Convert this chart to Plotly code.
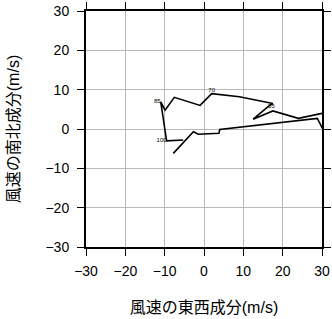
import plotly.graph_objects as go

# hodograph path (u, v) in m/s
u = [-7.8, -2.7, -1.45, 3.8, 4.0, 28.8, 29.9, 31.0, 31.0, 24.0, 17.5, 12.5, 16.3, 17.5, 9.0, 1.95, -1.0, -7.55, -9.9, -11.0, -9.5, -5.3]
v = [-6.2, -0.7, -1.35, -1.1, -0.1, 2.7, 0.6, -1.5, 4.2, 2.7, 4.6, 2.5, 5.7, 6.5, 8.2, 9.0, 6.0, 8.05, 4.8, 6.9, -3.0, -2.8]

lab_u = [16.3, 1.95, -11.0, -9.5]
lab_v = [5.7, 9.0, 6.9, -3.0]
lab_t = ["55", "70", "85", "100"]
lab_pos = ["middle right", "top center", "middle left", "middle left"]

ticks = [-30, -20, -10, 0, 10, 20, 30]

fig = go.Figure()
fig.add_trace(go.Scatter(x=u, y=v, mode="lines",
                         line=dict(color="black", width=1.6), hoverinfo="skip"))
fig.add_trace(go.Scatter(x=lab_u, y=lab_v, mode="text", text=lab_t,
                         textposition=lab_pos, cliponaxis=False,
                         textfont=dict(size=6, color="black", family="Liberation Sans")))

font_main = "Liberation Sans, Noto Sans CJK JP, sans-serif"
axis_common = dict(range=[-30, 30], tickvals=ticks, showgrid=True, automargin=False,
                   gridcolor="#b8b8b8", gridwidth=1.2, zeroline=False,
                   showline=True, linecolor="black", linewidth=2, mirror="ticks",
                   ticks="outside", ticklen=7, tickcolor="black", tickwidth=1,
                   tickfont=dict(size=14, color="black", family=font_main))

fig.update_layout(
    width=332, height=319,
    margin=dict(l=86, r=10, t=11, b=72, autoexpand=False),
    paper_bgcolor="white", plot_bgcolor="white",
    showlegend=False,
    font=dict(family=font_main, color="black"),
    xaxis=dict(**axis_common, ticklabelstandoff=3,
               title=dict(text="風速の東西成分(m/s)", font=dict(size=16, family=font_main), standoff=24)),
    yaxis=dict(**axis_common, ticklabelstandoff=5,
               title=dict(text="風速の南北成分(m/s)", font=dict(size=16, family=font_main), standoff=22)),
)
fig.write_html("out.html")
